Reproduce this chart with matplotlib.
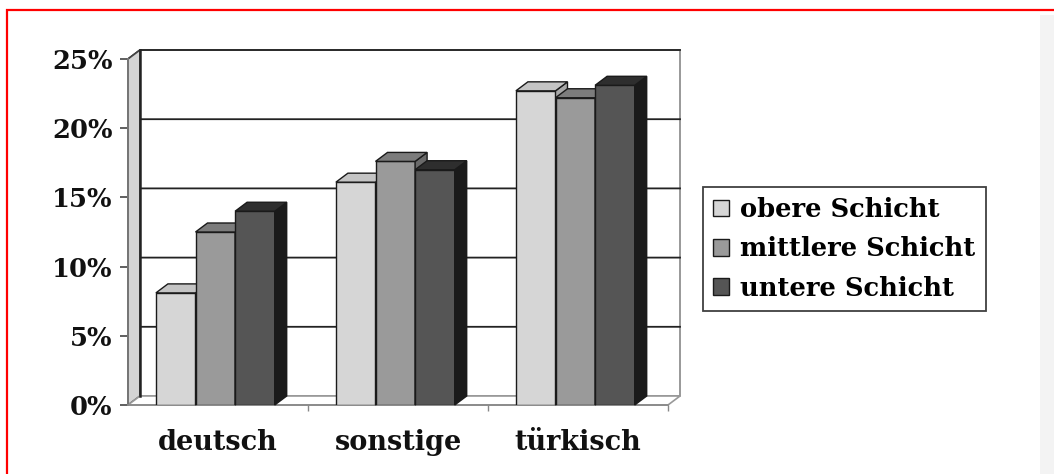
import matplotlib.pyplot as plt
from matplotlib.patches import Polygon, Rectangle

# Anteile je Herkunft und Schicht (in Prozent)
kategorien = ['deutsch', 'sonstige', 'türkisch']
schichten = ['obere Schicht', 'mittlere Schicht', 'untere Schicht']
obere = [8.1, 16.1, 22.7]
mittlere = [12.5, 17.6, 22.2]
untere = [14.0, 17.0, 23.1]
y_ticks = [0, 5, 10, 15, 20, 25]

# Grautöne: Vorderseite, Oberseite, rechte Seite
farben_front = ['#d6d6d6', '#9a9a9a', '#555555']
farben_oben = ['#c4c4c4', '#7c7c7c', '#2e2e2e']
farben_seite = ['#a8a8a8', '#6a6a6a', '#1a1a1a']

plt.rcParams['font.family'] = ['DejaVu Serif']
plt.rcParams['font.weight'] = 'bold'

fig = plt.figure(figsize=(10.54, 4.74), dpi=100)
ax = fig.add_axes([128 / 1054, 69 / 474, 540 / 1054, 346 / 474])
ax.set_xlim(-0.5, 2.5)
ax.set_ylim(0, 25)

# Tiefenversatz für den 3D-Effekt (in Datenkoordinaten)
DX = 12 / 180
DY = 9 / 13.84

# Rückwand mit Gitterlinien
ax.add_patch(Polygon([(-0.5 + DX, DY), (2.5 + DX, DY), (2.5 + DX, 25 + DY), (-0.5 + DX, 25 + DY)],
                     closed=True, facecolor='white', edgecolor='#888888', lw=1.2, zorder=0.5, clip_on=False))
for v in y_ticks[1:]:
    ax.plot([-0.5, -0.5 + DX, 2.5 + DX], [v, v + DY, v + DY], color='#222222', lw=1.3,
            zorder=1, clip_on=False)

# Boden
ax.add_patch(Polygon([(-0.5, 0), (2.5, 0), (2.5 + DX, DY), (-0.5 + DX, DY)], closed=True,
                     facecolor='white', edgecolor='#999999', lw=1.2, zorder=1.5, clip_on=False))
# linke Seitenwand
ax.add_patch(Polygon([(-0.5, 0), (-0.5 + DX, DY), (-0.5 + DX, 25 + DY), (-0.5, 25)], closed=True,
                     facecolor='#d4d4d4', edgecolor='#444444', lw=1.2, zorder=1.2, clip_on=False))
ax.plot([-0.5 + DX, -0.5 + DX], [DY, 25 + DY], color='#222222', lw=1.8, zorder=1.6, clip_on=False)

# Säulen mit Seiten- und Oberfläche
breite = 0.22
versatz = [-0.235, -0.015, 0.205]
werte = [obere, mittlere, untere]
balken = []
for k, reihe in enumerate(werte):
    z = 3 + k
    xs = [i + versatz[k] for i in range(len(kategorien))]
    b = ax.bar(xs, reihe, width=breite, align='center', color=farben_front[k],
               edgecolor='#1a1a1a', linewidth=1.0, zorder=z, label=schichten[k])
    balken.append(b)
    for x, h in zip(xs, reihe):
        x0 = x - breite / 2
        x1 = x + breite / 2
        ax.add_patch(Polygon([(x1, 0), (x1 + DX, DY), (x1 + DX, h + DY), (x1, h)], closed=True,
                             facecolor=farben_seite[k], edgecolor='#1a1a1a', lw=1.0, zorder=z,
                             clip_on=False))
        ax.add_patch(Polygon([(x0, h), (x0 + DX, h + DY), (x1 + DX, h + DY), (x1, h)], closed=True,
                             facecolor=farben_oben[k], edgecolor='#1a1a1a', lw=1.0, zorder=z,
                             clip_on=False))

# Achsen
for s in ['top', 'right']:
    ax.spines[s].set_visible(False)
ax.spines['left'].set_color('#777777')
ax.spines['left'].set_linewidth(1.4)
ax.spines['left'].set_zorder(1.7)
ax.spines['bottom'].set_color('#888888')
ax.spines['bottom'].set_linewidth(1.2)
ax.set_facecolor('none')

ax.set_yticks(y_ticks)
ax.set_yticklabels([f'{v}%' for v in y_ticks], fontsize=18.5, fontweight='bold', color='#111111')
ax.tick_params(axis='y', length=6, width=1.2, color='#444444', pad=5)

ax.set_xticks(range(len(kategorien)))
ax.set_xticklabels(kategorien, fontsize=19.5, fontweight='bold', color='#111111')
ax.set_xticks([0.5, 1.5, 2.5], minor=True)
ax.tick_params(axis='x', which='major', length=0, pad=17)
ax.tick_params(axis='x', which='minor', length=4, width=1, color='#888888')

# Legende
leg = fig.legend(handles=balken, labels=schichten, loc='upper left',
                 bbox_to_anchor=(703 / 1054, 1 - 187 / 474), fontsize=18.5,
                 frameon=True, fancybox=False, borderpad=0.4, labelspacing=0.55,
                 handlelength=0.6, handleheight=0.6, handletextpad=0.45, borderaxespad=0)
leg.get_frame().set_edgecolor('#111111')
leg.get_frame().set_linewidth(1.3)
for t in leg.get_texts():
    t.set_fontweight('bold')

# Rahmen und grauer Rand rechts
fig.patches.append(Rectangle((1040 / 1054, 0), 14 / 1054, 459 / 474, transform=fig.transFigure,
                             facecolor='#f3f3f3', edgecolor='none', zorder=0))
fig.patches.append(Rectangle((7 / 1054, -0.05), 1.1, 1 - 10 / 474 + 0.05, transform=fig.transFigure,
                             facecolor='none', edgecolor='#ff0000', lw=1.6, zorder=5))

fig.savefig('out.png', dpi=100)
